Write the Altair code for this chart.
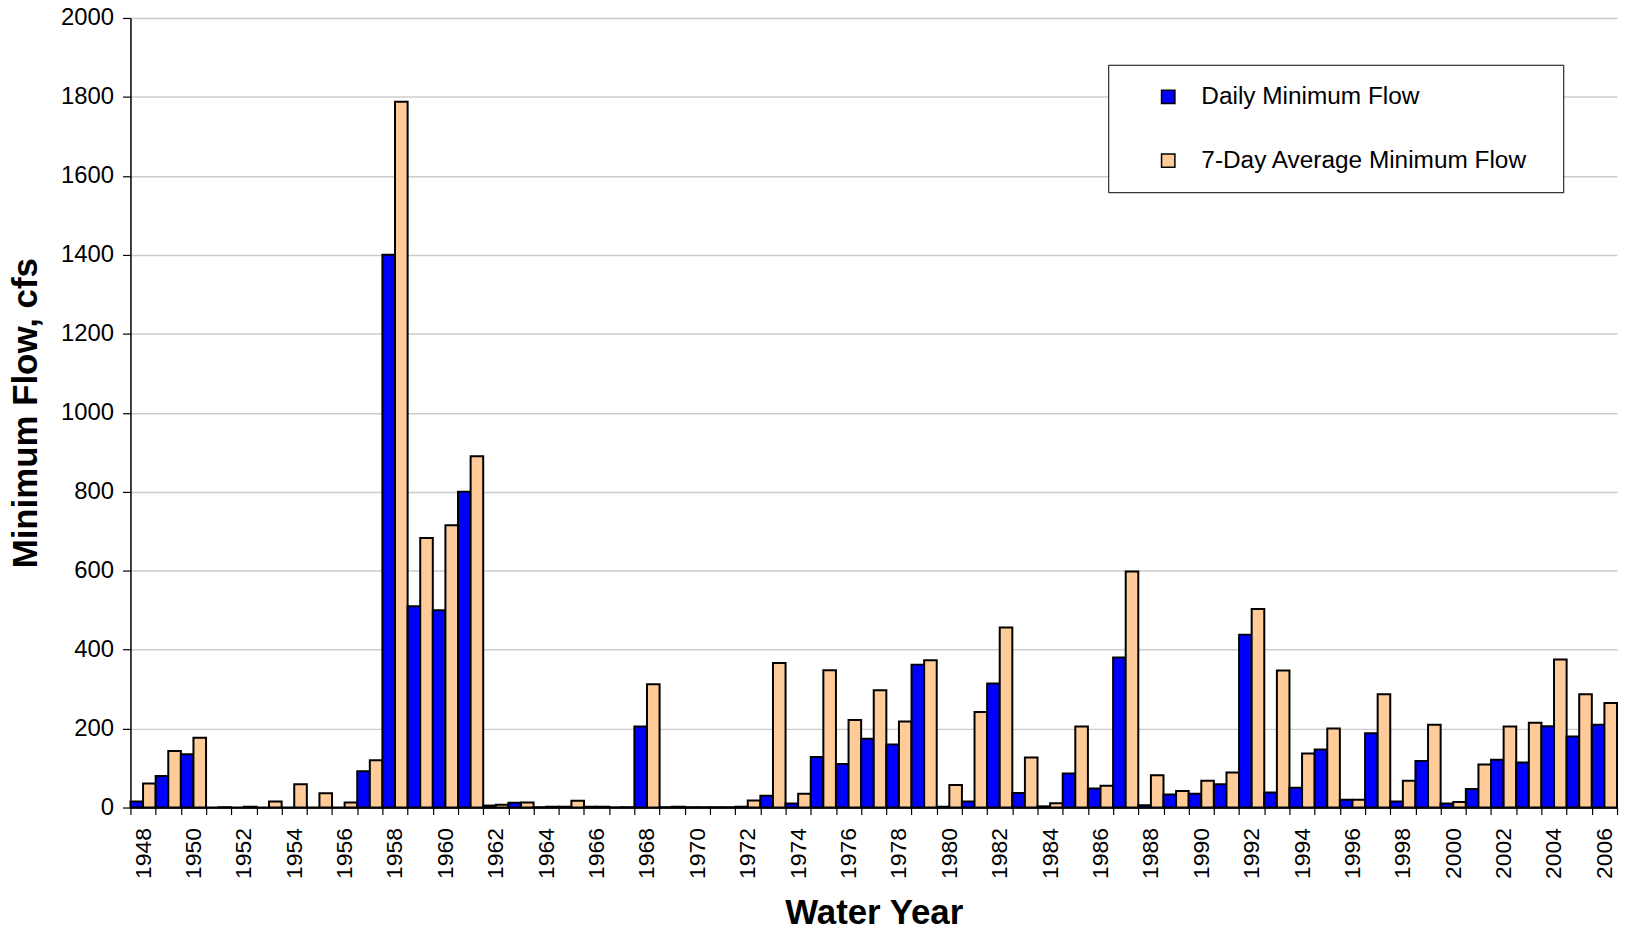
import altair as alt
import pandas as pd

years = list(range(1948, 2007))
daily_min = [15, 80, 135, 0, 0, 0, 0, 0, 0, 92,
             1400, 510, 500, 800, 5, 12, 1, 2, 2, 1,
             205, 1, 1, 1, 2, 30, 10, 128, 110, 174,
             160, 362, 2, 15, 314, 37, 3, 86, 48, 380,
             6, 33, 35, 59, 438, 38, 50, 147, 20, 188,
             15, 118, 10, 47, 121, 114, 206, 180, 210]
seven_day_min = [61, 143, 177, 1, 2, 15, 59, 36, 13, 120,
                 1788, 683, 715, 890, 7, 13, 2, 17, 2, 1,
                 312, 2, 1, 1, 18, 366, 35, 348, 222, 297,
                 218, 373, 57, 242, 456, 127, 11, 205, 55, 598,
                 82, 42, 68, 89, 503, 347, 137, 200, 20, 287,
                 68, 210, 14, 109, 205, 215, 375, 287, 265]
series_names = ["Daily Minimum Flow", "7-Day Average Minimum Flow"]
series_colors = ["#0000FF", "#FFCC99"]
y_ticks = list(range(0, 2001, 200))

rows = []
for yr, d, s in zip(years, daily_min, seven_day_min):
    rows.append({"year": yr, "series": series_names[0], "flow": d})
    rows.append({"year": yr, "series": series_names[1], "flow": s})
df = pd.DataFrame(rows)

FONT = "Liberation Sans"

chart = alt.Chart(df).mark_bar(stroke="black", strokeWidth=2).encode(
    x=alt.X(
        "year:O",
        scale=alt.Scale(paddingInner=0, paddingOuter=0),
        axis=alt.Axis(
            title="Water Year",
            labelAngle=270,
            labelExpr="datum.value % 2 == 0 ? datum.label : ''",
            labelOverlap=False,
            tickBand="extent",
            tickSize=7,
            tickColor="black",
            tickWidth=1.2,
            labelPadding=13,
            labelFontSize=23,
            labelColor="black",
            titleFontSize=35,
            titleFontWeight="bold",
            titlePadding=17,
            titleColor="black",
            grid=False,
            domainColor="black",
            domainWidth=1.5,
        ),
    ),
    xOffset=alt.XOffset(
        "series:N",
        sort=series_names,
        scale=alt.Scale(domain=series_names, paddingInner=0, paddingOuter=0),
    ),
    y=alt.Y(
        "flow:Q",
        scale=alt.Scale(domain=[0, 2000], nice=False),
        axis=alt.Axis(
            values=y_ticks,
            format="d",
            title="Minimum Flow, cfs",
            tickSize=8,
            tickColor="black",
            tickWidth=1.2,
            labelPadding=9,
            labelFontSize=24,
            labelColor="black",
            titleFontSize=35,
            titleFontWeight="bold",
            titlePadding=17,
            titleColor="black",
            grid=True,
            gridColor="#cccccc",
            gridWidth=1.5,
            domainColor="black",
            domainWidth=1.5,
        ),
    ),
    color=alt.Color(
        "series:N",
        sort=series_names,
        scale=alt.Scale(domain=series_names, range=series_colors),
        legend=alt.Legend(
            title=" ",
            titleOrient="right",
            titlePadding=16,
            titleFontSize=23,
            orient="none",
            legendX=982,
            legendY=47,
            direction="vertical",
            symbolType="square",
            symbolSize=180,
            symbolStrokeColor="black",
            symbolStrokeWidth=1.5,
            symbolOffset=28,
            labelOffset=21,
            labelFontSize=24.5,
            labelFont=FONT,
            labelColor="black",
            labelLimit=0,
            padding=20,
            rowPadding=39,
            strokeColor="black",
            fillColor="white",
        ),
    ),
).properties(
    width=1493,
    height=793,
    autosize=alt.AutoSizeParams(type="none"),
    padding={"left": 123, "top": 8, "right": 4, "bottom": 124},
).configure(
    font=FONT,
).configure_axis(
    labelFont=FONT,
    titleFont=FONT,
).configure_view(
    stroke=None,
)

chart.save("out.html", embed_options={"renderer": "svg", "actions": False})
